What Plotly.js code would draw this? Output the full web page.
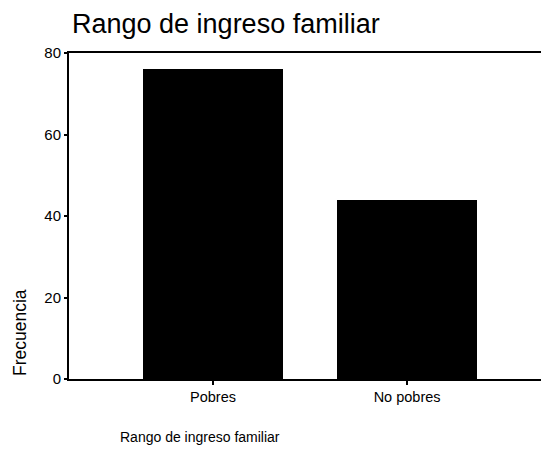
<!DOCTYPE html>
<html><head><meta charset="utf-8">
<script src="https://cdn.plot.ly/plotly-3.0.1.min.js"></script>
<style>html,body{margin:0;padding:0;background:#fff}</style>
</head><body>
<div id="chart" style="width:541px;height:450px"></div>
<script>
const categories = ["Pobres", "No pobres"];
const frecuencia = [76, 44];
const yTicks = [0, 20, 40, 60, 80];

const data = [{
  type: "bar",
  x: categories,
  y: frecuencia,
  width: 0.72,
  marker: {color: "#000000", line: {width: 0}},
  hoverinfo: "x+y"
}];

const plotL = 69, plotW = 472, plotT = 53, plotH = 326;

const layout = {
  width: 541, height: 450,
  margin: {l: plotL, r: 0, t: plotT, b: 450 - plotT - plotH, pad: 0},
  paper_bgcolor: "#fff", plot_bgcolor: "#fff",
  font: {family: "Liberation Sans, Arial, sans-serif", color: "#000", size: 14},
  title: {text: "Rango de ingreso familiar", x: 72/541, xref: "container", xanchor: "left",
          y: 1 - 24/450, yref: "container", yanchor: "middle",
          font: {size: 27, color: "#000"}},
  xaxis: {type: "category", range: [-0.742, 1.69], showline: true, linecolor: "#000", linewidth: 2, mirror: true,
          ticks: "outside", ticklen: 4, tickwidth: 2, tickcolor: "#000", showgrid: false, zeroline: false,
          tickfont: {size: 14.5}},
  yaxis: {range: [0, 80], tickvals: yTicks, ticktext: yTicks.map(String), showline: true, linecolor: "#000", linewidth: 2,
          ticks: "outside", ticklen: 3, tickwidth: 2, tickcolor: "#000", showgrid: false, zeroline: false,
          tickfont: {size: 15}},
  annotations: [
    {text: "Rango de ingreso familiar", xref: "paper", yref: "paper", x: (118 - plotL) / plotW,
     y: -(437 - (plotT + plotH)) / plotH,
     xanchor: "left", yanchor: "middle", showarrow: false, font: {size: 14}},
    {text: "Frecuencia", xref: "paper", yref: "paper", x: -(plotL - 20) / plotW, y: (plotT + plotH - 333) / plotH,
     xanchor: "center", yanchor: "middle", textangle: -90, showarrow: false, font: {size: 17.5}}
  ],
  showlegend: false,
  bargap: 0
};

Plotly.newPlot("chart", data, layout, {displayModeBar: false, staticPlot: true});
</script>
</body></html>
